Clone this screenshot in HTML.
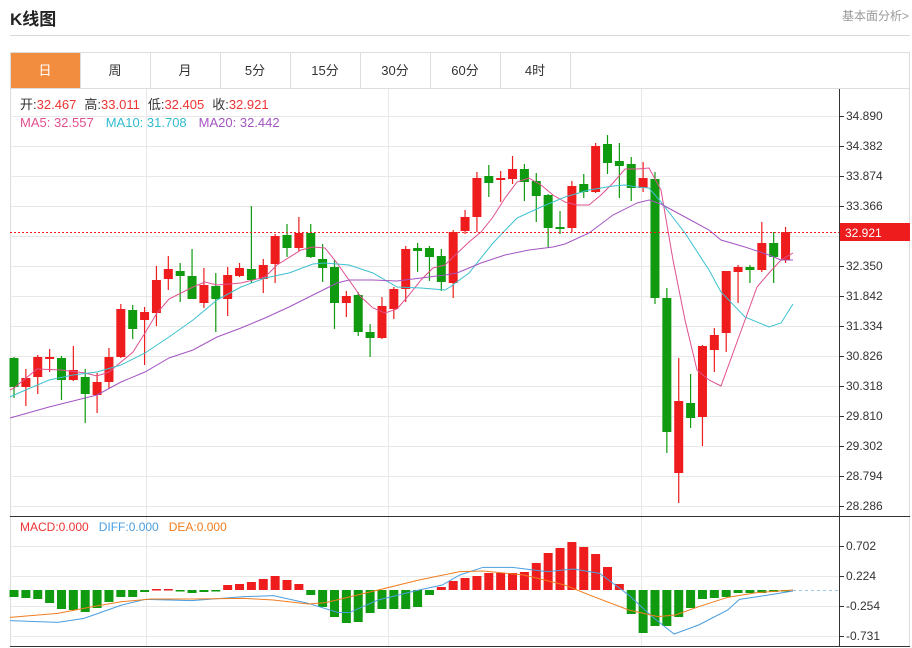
<!DOCTYPE html>
<html><head><meta charset="utf-8"><style>
body{margin:0;background:#fff;width:912px;height:648px;overflow:hidden;font-family:"Liberation Sans","Noto Sans CJK SC",sans-serif;}
.t{position:absolute;white-space:nowrap}
</style></head><body>
<div class="t" style="left:10px;top:5px;font-size:17px;font-weight:bold;color:#222">K线图</div>
<div class="t" style="left:842px;top:7px;font-size:12px;color:#999">基本面分析&gt;</div>
<div style="position:absolute;left:10px;top:35px;width:900px;height:1px;background:#d8d8d8"></div>
<svg id="s" width="912" height="648" style="position:absolute;left:0;top:0" font-family="Liberation Sans, Noto Sans CJK SC, sans-serif"></svg>
<script>
var S=document.getElementById('s'),h='';
function L(x1,y1,x2,y2,c,w,d){h+='<line x1="'+x1+'" y1="'+y1+'" x2="'+x2+'" y2="'+y2+'" stroke="'+c+'" stroke-width="'+(w||1)+'"'+(d?' stroke-dasharray="'+d+'"':'')+'/>';}
function R(x,y,w,hh,c){h+='<rect x="'+x+'" y="'+y+'" width="'+w+'" height="'+hh+'" fill="'+c+'"/>';}
function T(x,y,s,c,sz,a){h+='<text x="'+x+'" y="'+y+'" fill="'+c+'" font-size="'+(sz||12)+'"'+(a?' text-anchor="'+a+'"':'')+'>'+s+'</text>';}
function P(pts,c,w){h+='<polyline fill="none" stroke="'+c+'" stroke-width="'+(w||1)+'" points="'+pts.map(function(p){return p.join(',')}).join(' ')+'"/>';}
// tabs
R(10,52,900,36,'#fff');L(10,52.5,910,52.5,'#ddd');L(10,88.5,910,88.5,'#ddd');L(10.5,52,10.5,646,'#ddd');L(909.5,52,909.5,646,'#ddd');
R(11,53,69,35,'#f28c3f');
var tabs=['日','周','月','5分','15分','30分','60分','4时'];
for(var i=0;i<8;i++){T(45+i*70,75,tabs[i],i?'#333':'#fff',13,'middle');L(80.5+i*70,53,80.5+i*70,88,'#ddd');}
// grid
for(var k=0;k<14;k++){var y=116+k*30;L(10,y+.5,839,y+.5,'#e8e8e8');}
[146,388,641].forEach(function(x){L(x+.5,89,x+.5,646,'#e8e8e8');});
for(var k=0;k<4;k++){var y=546+k*30;L(10,y+.5,839,y+.5,'#e8e8e8');}
var lab=['34.890','34.382','33.874','33.366','32.858','32.350','31.842','31.334','30.826','30.318','29.810','29.302','28.794','28.286'];
for(var k=0;k<14;k++){var y=116+k*30;if(k==4)continue;L(839,y+.5,844,y+.5,'#333');T(846,y+4,lab[k],'#333',12);}
['0.702','0.224','-0.254','-0.731'].forEach(function(s,k){var y=546+k*30;L(839,y+.5,844,y+.5,'#333');T(846,y+4,s,'#333',12);});
L(839.5,89,839.5,646,'#333');L(10,516.5,910,516.5,'#333');L(10,646.5,910,646.5,'#333');
// candles: bodyTop, bodyBot, wickTop, wickBot, up?
var C=[[358,387,357,398,0],[378,387,369,406,1],[357,377,355,394,1],[357,359,349,372,1],[358,380,356,400,0],[370,380,346,381,1],[377,394,369,423,0],[382,395,373,413,1],[357,382,348,388,1],[309,357,304,358,1],
[310,329,305,339,0],[312,320,307,365,1],[280,313,266,326,1],[269,279,256,290,1],[271,276,263,302,0],[276,299,249,299,0],[285,303,268,308,1],[286,299,273,332,0],[275,299,267,316,1],[268,276,263,277,1],
[269,280,206,283,0],[265,279,259,293,1],[236,264,234,283,1],[235,248,224,257,0],[233,248,217,251,1],[233,257,224,258,0],[259,268,244,282,0],[267,303,260,329,0],[296,303,291,317,1],[295,332,292,336,0],
[332,338,324,357,0],[306,338,297,339,1],[289,309,287,319,1],[249,289,246,302,1],[248,251,243,272,0],[248,257,246,281,0],[256,282,249,291,0],[232,283,230,298,1],[217,231,210,234,1],[178,217,172,232,1],
[176,183,165,197,0],[178,180,171,202,1],[169,179,156,184,1],[169,182,164,201,0],[181,196,173,222,0],[195,228,194,248,0],[227,228,211,234,0],[186,228,181,232,1],[184,192,174,198,0],[146,192,143,193,1],
[144,163,135,174,0],[161,166,143,198,0],[164,188,157,201,0],[178,188,162,192,1],[179,298,172,304,0],[298,432,288,453,0],[401,473,358,503,1],[403,418,374,428,0],[346,417,345,446,1],[335,350,328,372,1],
[271,333,271,352,1],[267,272,265,303,1],[267,270,265,283,0],[243,270,222,272,1],[243,257,232,283,0],[232,260,227,263,1]];
var RED='#ee1c1c',GRN='#0f9a0f';
function X(i){return 14+i*11.87;}
C.forEach(function(c,i){var x=X(i),col=c[4]?RED:GRN;L(x,c[2],x,c[3],col,1.2);R(x-4.5,c[0],9,Math.max(c[1]-c[0],2),col);});
// MAs
P([[10,390],[14,388],[37,369],[61,370],[85,373],[97,376],[109,372],[121,362],[133,352],[145,333],[157,313],[169,299],[193,287],[205,282],[217,285],[241,283],[265,277],[277,265],[301,250],[313,247],[325,248],[337,263],[349,280],[361,297],[373,308],[385,313],[397,309],[409,295],[421,280],[433,268],[445,265],[450,260],[469,242],[481,232],[493,217],[505,198],[517,182],[529,178],[541,185],[553,195],[565,202],[577,205],[589,205],[601,195],[613,183],[625,169],[637,169],[649,168],[661,190],[673,260],[685,320],[697,370],[709,380],[721,386],[733,353],[745,320],[757,287],[769,273],[781,260],[793,253]],'#e0508f');
P([[10,397],[14,395],[49,380],[73,375],[97,372],[121,365],[145,353],[169,337],[193,320],[205,310],[217,300],[241,287],[265,278],[289,273],[313,264],[325,263],[349,265],[373,273],[397,287],[421,288],[445,290],[450,287],[469,273],[493,243],[517,218],[541,207],[565,197],[589,190],[613,186],[625,185],[637,187],[649,188],[661,202],[685,233],[709,270],[721,292],[745,317],[769,327],[781,323],[793,304]],'#3cc0cf');
P([[10,418],[49,407],[85,398],[97,395],[121,382],[145,372],[169,358],[193,350],[217,337],[241,328],[265,318],[289,307],[313,295],[337,283],[349,280],[373,280],[397,281],[421,278],[445,275],[457,273],[481,263],[505,255],[529,250],[553,247],[565,244],[589,233],[613,215],[637,203],[649,200],[661,204],[685,217],[709,230],[721,240],[745,247],[769,255],[781,260],[793,260]],'#a455c2');
// last price line
L(10,232.5,839,232.5,RED,1,'2,2');R(840,223,70,18,RED);T(845,237,'32.921','#fff',12);
// MACD bars (bottom/top y values)
var M=[597,598,599,603,609,610,612,608,602,597,597,592,589,589,591,593,592,591,585,584,582,579,576,580,584,595,607,617,623,622,613,609,609,609,607,595,587,581,578,576,573,573,573,572,563,553,548,542,547,554,567,584,614,633,626,626,617,608,599,598,597,593,593,593,592,591];
M.forEach(function(y,i){var x=X(i);if(y>=590){R(x-4.5,590,9,Math.max(y-590,1.5),GRN);}else{R(x-4.5,y,9,Math.max(590-y,1.5),RED);}});
function mp(a){return a.map(function(p){return [10+(p[0]-18)*0.5826,510+p[1]/3];});}
P(mp([[18,332],[100,337],[145,325],[210,285],[250,268],[330,272],[420,260],[470,257],[530,280],[580,307],[600,308],[650,270],[720,240],[760,225],[790,195],[830,172],[880,172],[940,185],[985,177],[1030,190],[1080,255],[1120,320],[1158,372],[1200,345],[1250,300],[1270,268],[1320,255],[1362,243]]),'#4a9ee0');
P(mp([[18,322],[100,310],[160,290],[210,275],[260,267],[330,267],[420,265],[470,270],[530,282],[560,278],[650,240],[720,210],[790,185],[830,183],[900,195],[970,225],[1020,260],[1080,300],[1130,320],[1160,315],[1200,290],[1250,262],[1300,248],[1362,240]]),'#f07d20');
L(793,590.5,838,590.5,'#9cc8e8',1,'3,3');
// texts
h+='<text x="20" y="109" font-size="13"><tspan fill="#333">开:</tspan><tspan fill="#e33">32.467</tspan><tspan fill="#333" dx="8">高:</tspan><tspan fill="#e33">33.011</tspan><tspan fill="#333" dx="8">低:</tspan><tspan fill="#e33">32.405</tspan><tspan fill="#333" dx="8">收:</tspan><tspan fill="#e33">32.921</tspan></text>';
h+='<text x="20" y="127" font-size="13"><tspan fill="#e0508f">MA5: 32.557</tspan><tspan fill="#2fbccd" dx="12">MA10: 31.708</tspan><tspan fill="#a455c2" dx="12">MA20: 32.442</tspan></text>';
h+='<text x="20" y="531" font-size="12"><tspan fill="#e33">MACD:0.000</tspan><tspan fill="#4a9ee0" dx="10">DIFF:0.000</tspan><tspan fill="#f07d20" dx="10">DEA:0.000</tspan></text>';
S.innerHTML=h;
</script>
</body></html>
